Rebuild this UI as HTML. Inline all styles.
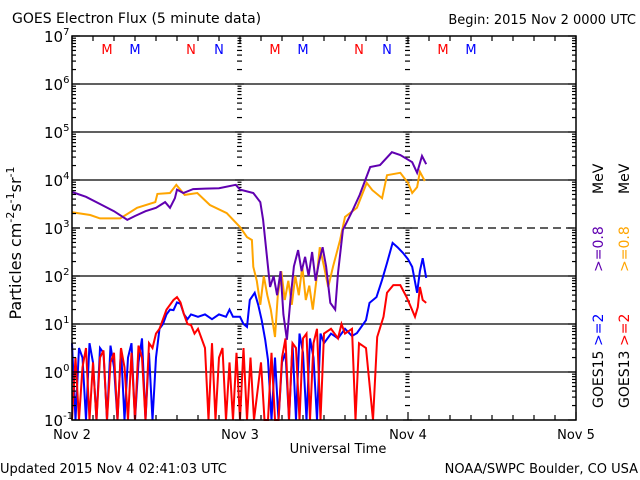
<!DOCTYPE html>
<html><head><meta charset="utf-8"><style>
html,body{margin:0;padding:0;background:#fff;}
svg{display:block;font-family:"DejaVu Sans","Liberation Sans",sans-serif;}
</style></head><body>
<svg id="chart" width="640" height="480" viewBox="0 0 640 480" xmlns="http://www.w3.org/2000/svg">
<rect width="640" height="480" fill="#fff"/>
<text x="12" y="23" font-size="14">GOES Electron Flux (5 minute data)</text>
<text x="636" y="24" font-size="13" text-anchor="end">Begin: 2015 Nov 2 0000 UTC</text>
<text x="0" y="473" font-size="13">Updated 2015 Nov  4 02:41:03 UTC</text>
<text x="638" y="473" font-size="13" text-anchor="end">NOAA/SWPC Boulder, CO USA</text>
<text x="338" y="453" font-size="13" text-anchor="middle">Universal Time</text>
<text transform="translate(21,243) rotate(-90)" font-size="16" text-anchor="middle">Particles cm<tspan dy="-7" font-size="11">-2</tspan><tspan dy="7">s</tspan><tspan dy="-7" font-size="11">-1</tspan><tspan dy="7">sr</tspan><tspan dy="-7" font-size="11">-1</tspan></text>
<g font-size="14">
<text transform="translate(603,408) rotate(-90)">GOES15</text>
<text transform="translate(603,346) rotate(-90)" fill="#0000ff">&gt;=2</text>
<text transform="translate(603,272) rotate(-90)" fill="#6000b0">&gt;=0.8</text>
<text transform="translate(603,194) rotate(-90)">MeV</text>
<text transform="translate(629,408) rotate(-90)">GOES13</text>
<text transform="translate(629,346) rotate(-90)" fill="#ff0000">&gt;=2</text>
<text transform="translate(629,272) rotate(-90)" fill="#ffa500">&gt;=0.8</text>
<text transform="translate(629,194) rotate(-90)">MeV</text>
</g>
<g id="grid"></g>
<g id="series"></g>
<g id="axes"></g>
</svg>
<script>
// ---- data (hours since Nov 2 00:00 UTC, values in log10 flux) ----
const dayLabels = ["Nov 2","Nov 3","Nov 4","Nov 5"];
const decadeExps = [-1,0,1,2,3,4,5,6,7];
const markerLabels = ["M","M","N","N","M","M","N","N","M","M"];
const markerHours = [5,9,17,21,29,33,41,45,53,57];
const markerColors = ["#ff0000","#0000ff","#ff0000","#0000ff","#ff0000","#0000ff","#ff0000","#0000ff","#ff0000","#0000ff"];

const purpleT = [0,2,4,6,7.9,9,10.5,12,13.3,14,14.7,15,15.9,17.3,19,21,23.4,24,25.9,26.9,27.3,27.6,28,28.3,28.8,29.3,29.8,30.2,30.7,31.2,31.7,32.3,32.8,33.3,33.8,34.3,34.8,35.3,35.8,36.3,36.9,37.6,38,38.7,40.1,41.1,42.6,44,45.7,46.9,48.6,49.3,50,50.6];
const purpleV = [3.75,3.65,3.5,3.35,3.17,3.25,3.35,3.42,3.54,3.42,3.62,3.8,3.73,3.81,3.82,3.83,3.9,3.8,3.73,3.54,3.17,2.75,2.19,1.77,2.0,1.6,2.1,1.2,0.67,1.5,2.2,2.54,2.1,2.4,2.0,2.5,1.9,2.3,2.6,2.2,1.44,1.3,2.06,2.96,3.37,3.69,4.27,4.31,4.58,4.52,4.37,4.15,4.5,4.33];

const orangeT = [0,2.6,4,6.9,9.3,11.9,12.2,14,14.9,16.1,17.9,19.7,22.1,24,25,25.7,25.9,26.4,26.9,27.4,27.9,28.4,29,29.4,29.9,30.4,30.9,31.4,31.9,32.4,32.9,33.4,33.9,34.4,34.9,35.4,36,36.6,37.3,38.3,39,40.7,42.1,42.9,44.3,45,46.9,48,48.6,49.3,49.7,50.4];
const orangeV = [3.33,3.27,3.2,3.2,3.42,3.54,3.71,3.73,3.9,3.69,3.73,3.48,3.31,3.02,2.81,2.75,2.19,1.9,1.4,2.0,1.6,1.3,0.73,1.6,2.1,1.5,1.9,1.4,2.0,1.6,2.2,1.5,1.8,1.3,1.9,2.6,2.2,1.77,2.2,2.75,3.23,3.42,3.94,3.79,3.62,4.1,4.15,3.94,3.73,3.85,4.17,3.98];

const blueT = [0,0.5,1,1.5,2,2.5,3,3.5,4,4.5,5,5.5,6,6.5,7,7.5,8,8.5,9,9.5,10,10.5,11,11.5,12,12.5,13,13.5,14,14.5,15,15.5,16,16.5,17,18,19,20,21,22,22.5,23,24,24.5,25,25.4,26.1,26.6,27.1,27.6,28,28.5,29,29.5,30,30.5,31,31.5,32,32.5,33,33.5,34,34.5,35,35.5,36,37,38,39,40,40.7,42,42.5,43.5,44.3,45,45.8,46.5,47.3,48,48.6,49.3,49.7,50.1,50.6];
const blueV = [0.6,-1,0.5,0.3,-1,0.6,0.2,-1,0.5,0.4,-1,0.55,0.1,-1,0.5,-1,0.3,0.6,-1,0.2,0.7,-1,0.4,-1,0.3,0.9,1.0,1.2,1.3,1.29,1.45,1.42,1.2,1.1,1.2,1.15,1.2,1.1,1.2,1.15,1.3,1.15,1.15,1.0,0.94,1.5,1.65,1.4,1.08,0.67,0.25,-1,0.3,-1,0.2,0.4,-1,0.6,-1,0.8,0.4,-1,0.7,0.3,-1,0.8,0.6,0.8,0.7,0.9,0.75,0.81,1.08,1.44,1.56,1.92,2.27,2.69,2.6,2.48,2.35,2.19,1.65,2.1,2.37,1.96];

const redT = [0,0.5,1,1.5,2,2.5,3,3.5,4,4.5,5,5.5,6,6.5,7,7.5,8,8.5,9,9.5,10,10.5,11,11.5,12,12.5,13,13.5,14,14.5,15,15.5,16,16.5,17,17.5,18,18.5,19,19.5,20,20.5,21,21.5,22,22.5,23,23.5,24,24.5,25,25.5,26,27,27.5,28,28.5,29,29.5,30,30.5,31,31.5,32,32.5,33,33.5,34,34.5,35,35.5,36,37,38,38.5,39,40,40.5,41,42,43,43.6,44.5,45,45.9,46.9,47.8,48.6,49,49.4,49.7,50.1,50.6];
const redV = [-1,0.3,-1,0.1,0.5,-1,0.2,-1,0.3,0.45,-1,0.2,0.4,-1,0.5,0.1,-1,0.4,-1,0.55,0.3,-1,0.6,0.5,0.8,0.9,1.1,1.3,1.4,1.5,1.56,1.45,1.2,1.0,0.98,0.8,0.9,0.7,0.5,-1,0.6,-1,0.3,0.5,-1,0.2,-1,0.4,-1,0.5,-1,0.3,-1,0.2,-1,-1,0.4,-1,-1,0.3,0.7,-1,0.6,0.5,-1,0.7,0.8,-1,0.6,0.9,-1,0.8,0.9,0.7,1.0,0.8,0.9,-1,0.6,0.5,-1,0.73,1.15,1.65,1.81,1.81,1.56,1.29,1.15,1.35,1.77,1.5,1.44];

// ---- scales ----
const X0=72, X1=576, Y0=36, Y1=420;
const xS = h => X0 + (h/72)*(X1-X0);
const yS = v => Y1 - (Math.max(v,-1)+1)/8*(Y1-Y0);
const NS="http://www.w3.org/2000/svg";
function mk(tag, attrs, parent){const e=document.createElementNS(NS,tag);for(const k in attrs)e.setAttribute(k,attrs[k]);parent.appendChild(e);return e;}
const grid=document.getElementById('grid'), series=document.getElementById('series'), axes=document.getElementById('axes');

decadeExps.forEach(p=>{
  if(p===-1||p===7) return;
  const y=yS(p);
  const l=mk('line',{x1:X0,x2:X1,y1:y,y2:y,stroke:'#000','stroke-width':1.3},grid);
  if(p===3) l.setAttribute('stroke-dasharray','8 5');
  
  
});
[1,2].forEach(d=>{
  const x=xS(d*24);
  for(let p=-1;p<7;p++){
    for(let m=1;m<10;m++){
      const y=yS(p+Math.log10(m));
      const w = m===1?8:(m>=2&&m<=5?4:3);
      const t=mk('line',{x1:x-w/2-1,x2:x+w/2,y1:y,y2:y,stroke:'#000','stroke-width':1.2},grid);
      
      
    }
  }
});
function drawSeries(T,V,color,name){
  const pts=T.map((t,i)=>xS(t).toFixed(1)+','+yS(V[i]).toFixed(1)).join(' ');
  const pl=mk('polyline',{points:pts,fill:'none',stroke:color,'stroke-width':2},series);
  
  
}
drawSeries(blueT,blueV,'#0000ff','series-goes15-2mev');
drawSeries(redT,redV,'#ff0000','series-goes13-2mev');
drawSeries(orangeT,orangeV,'#ffa500','series-goes13-0.8mev');
drawSeries(purpleT,purpleV,'#6000b0','series-goes15-0.8mev');

const fr=mk('rect',{x:X0,y:Y0,width:X1-X0,height:Y1-Y0,fill:'none',stroke:'#000','stroke-width':1.5},axes);


for(let p=-1;p<=7;p++){
  for(let m=1;m<10;m++){
    if(p===7&&m>1) break;
    const y=yS(p+Math.log10(m));
    const w=m===1?8:4;
    const a=mk('line',{x1:X0,x2:X0+w,y1:y,y2:y,stroke:'#000','stroke-width':1.2},axes);
    
    
    const b=mk('line',{x1:X1-w,x2:X1,y1:y,y2:y,stroke:'#000','stroke-width':1.2},axes);
    
    
  }
}
decadeExps.forEach(p=>{
  const y=yS(p);
  const t=mk('text',{x:44,y:y+6,'font-size':15},axes);
  
  
  t.textContent='10';
  const s=mk('tspan',{dy:-7,'font-size':10},t);
  s.textContent=String(p);
});
for(let h=0;h<=72;h+=3){
  const x=xS(h), L=(h%24===0)?8:5;
  const a=mk('line',{x1:x,x2:x,y1:Y1,y2:Y1-L,stroke:'#000','stroke-width':1.2},axes);
  
  
  const b=mk('line',{x1:x,x2:x,y1:Y0,y2:Y0+L,stroke:'#000','stroke-width':1.2},axes);
  
  
}
dayLabels.forEach((d,i)=>{
  const t=mk('text',{x:xS(i*24),y:439,'font-size':13,'text-anchor':'middle'},axes);
  
  
  t.textContent=d;
});
markerLabels.forEach((m,i)=>{
  const t=mk('text',{x:xS(markerHours[i]),y:54,'font-size':13,'text-anchor':'middle',fill:markerColors[i]},axes);
  
  
  t.textContent=m;
});
</script>
</body></html>
